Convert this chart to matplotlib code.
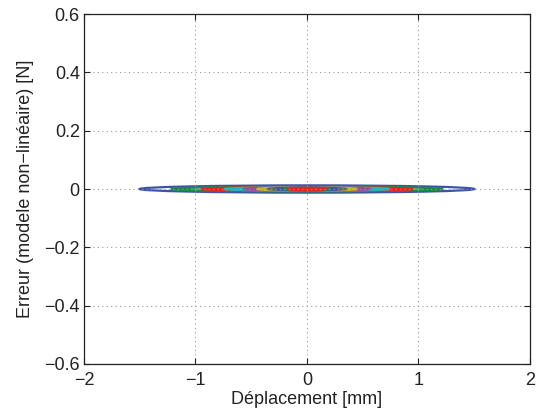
import matplotlib.pyplot as plt
from matplotlib.patches import Ellipse

plt.rcParams["font.family"] = ["Liberation Sans", "DejaVu Sans"]

# hysteresis loops of the error, largest to smallest (half amplitude in mm, height in N)
loop_amplitude = [1.5, 1.21, 0.95, 0.74, 0.57, 0.45, 0.35, 0.27, 0.21, 0.17]
loop_height = [0.025, 0.016, 0.013, 0.012, 0.011, 0.010, 0.010, 0.009, 0.008, 0.008]
loop_colors = ["#3d55a8", "#1a8a48", "#e82525", "#22b5c0", "#a04a9a",
               "#c8b830", "#666666"]

x_ticks = [-2, -1, 0, 1, 2]
y_ticks = [-0.6, -0.4, -0.2, 0, 0.2, 0.4, 0.6]

fig = plt.figure(figsize=(5.39, 4.17), dpi=100)
ax = fig.add_axes([0.1558, 0.1271, 0.8275, 0.8393])

for i, (amp, h) in enumerate(zip(loop_amplitude, loop_height)):
    ax.add_patch(Ellipse((0, 0), 2 * amp, h, fill=False,
                         edgecolor=loop_colors[i % len(loop_colors)], linewidth=1.6))

ax.set_xlim(-2, 2)
ax.set_ylim(-0.6, 0.6)
ax.set_xticks(x_ticks)
ax.set_yticks(y_ticks)
ax.set_xticklabels(["\u22122", "\u22121", "0", "1", "2"])
ax.set_yticklabels(["\u22120.6", "\u22120.4", "\u22120.2", "0", "0.2", "0.4", "0.6"])
ax.tick_params(direction="in", labelsize=13, length=4, top=True, right=True,
               pad=3, colors="#222222")
ax.tick_params(axis="x", pad=6)
ax.grid(True, linestyle=(0, (1, 3)), color="#999999", linewidth=0.8)
for spine in ax.spines.values():
    spine.set_linewidth(0.9)
    spine.set_color("#222222")

ax.set_xlabel("Déplacement [mm]", fontsize=13, labelpad=1, color="#222222")
ax.set_ylabel("Erreur (modele non\u2212linéaire) [N]", fontsize=13, labelpad=7,
              color="#222222")

fig.savefig("out.png", dpi=100)
